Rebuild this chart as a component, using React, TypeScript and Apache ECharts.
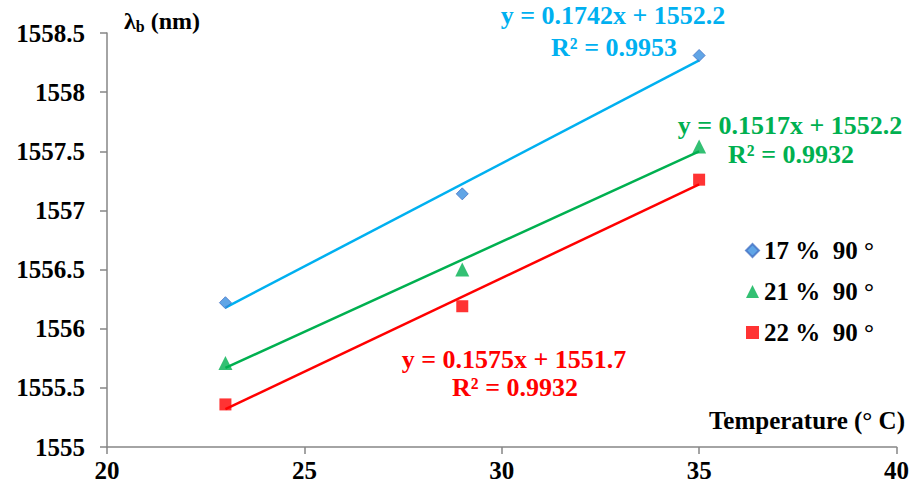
import React, { useEffect, useRef } from "react";
import * as echarts from "echarts";

const temperatures = [23, 29, 35];
const series17 = [1556.22, 1557.14, 1558.31];
const series21 = [1555.71, 1556.5, 1557.54];
const series22 = [1555.36, 1556.19, 1557.26];
const seriesNames = ["17 %  90 °", "21 %  90 °", "22 %  90 °"];
const eqTexts = [
  ["y = 0.1742x + 1552.2", "R² = 0.9953"],
  ["y = 0.1517x + 1552.2", "R² = 0.9932"],
  ["y = 0.1575x + 1551.7", "R² = 0.9932"],
];
const xTicks = { min: 20, max: 40, interval: 5 };
const yTicks = { min: 1555, max: 1558.5, interval: 0.5 };

const FONT = "Liberation Serif";

function fit(xs: number[], ys: number[]) {
  const n = xs.length;
  const mx = xs.reduce((a, b) => a + b, 0) / n;
  const my = ys.reduce((a, b) => a + b, 0) / n;
  let sxy = 0, sxx = 0;
  for (let i = 0; i < n; i++) {
    sxy += (xs[i] - mx) * (ys[i] - my);
    sxx += (xs[i] - mx) * (xs[i] - mx);
  }
  const k = sxy / sxx;
  const b = my - k * mx;
  const x0 = Math.min(...xs), x1 = Math.max(...xs);
  return [[x0, k * x0 + b], [x1, k * x1 + b]];
}

export default function App() {
  const ref = useRef<HTMLDivElement>(null);
  useEffect(() => {
    if (!ref.current) return;
    const chart = echarts.init(ref.current, null, { renderer: "svg" });
    const colors = ["#00B0F0", "#00B050", "#FF0000"];
    const datas = [series17, series21, series22];
    const symbols = ["diamond", "triangle", "rect"];
    const sizes = [12, 14, 12];
    const markerColors = ["#3A8EE0", "#00B050", "#FF0000"];
    const trend = datas.map((d, i) => ({
      type: "line",
      name: "trend" + i,
      data: fit(temperatures, d),
      showSymbol: false,
      symbol: "none",
      lineStyle: { color: colors[i], width: 2.5 },
      z: 2,
      silent: true,
    }));
    const scat = datas.map((d, i) => ({
      type: "scatter",
      name: seriesNames[i],
      data: temperatures.map((t, j) => [t, d[j]]),
      symbol: symbols[i],
      symbolSize: sizes[i],
      itemStyle: {
        color: markerColors[i],
        borderColor: i === 0 ? "#4472C4" : markerColors[i],
        borderWidth: i === 0 ? 1 : 0,
      },
      z: 3,
    }));
    const txt = (t: string, x: number, y: number, color: string, size = 26, align = "center") => ({
      type: "text",
      x,
      y,
      style: {
        text: t,
        fill: color,
        fontFamily: FONT,
        fontWeight: "bold",
        fontSize: size,
        textAlign: align,
        textVerticalAlign: "middle",
      },
    });
    const label = { color: "#000", fontFamily: FONT, fontWeight: "bold", fontSize: 25 };
    chart.setOption({
      animation: false,
      textStyle: { fontFamily: FONT },
      grid: { left: 107, right: 13, top: 33, bottom: 45 },
      xAxis: {
        type: "value",
        min: xTicks.min,
        max: xTicks.max,
        interval: xTicks.interval,
        axisLine: { show: true, lineStyle: { color: "#868686", width: 1.5 } },
        axisTick: { show: true, length: 7, lineStyle: { color: "#868686", width: 1.5 } },
        splitLine: { show: false },
        axisLabel: { ...label, margin: 11 },
      },
      yAxis: {
        type: "value",
        min: yTicks.min,
        max: yTicks.max,
        interval: yTicks.interval,
        axisLine: { show: true, lineStyle: { color: "#868686", width: 1.5 } },
        axisTick: { show: true, length: 7, lineStyle: { color: "#868686", width: 1.5 } },
        splitLine: { show: false },
        axisLabel: { ...label, margin: 22, formatter: (v: number) => String(v) },
      },
      legend: {
        data: seriesNames,
        orient: "vertical",
        left: 740,
        top: 233,
        itemGap: 16,
        itemWidth: 13,
        itemHeight: 13,
        textStyle: { color: "#000", fontFamily: FONT, fontWeight: "bold", fontSize: 25 },
      },
      graphic: [
        {
          type: "text",
          x: 124,
          y: 21,
          style: {
            text: "{l|λ}{s|b}{n| (nm)}",
            textVerticalAlign: "middle",
            rich: {
              l: { fontFamily: FONT, fontWeight: "bold", fontSize: 24, fill: "#000" },
              s: { fontFamily: FONT, fontWeight: "bold", fontSize: 16, fill: "#000", padding: [10, 0, 0, 0] },
              n: { fontFamily: FONT, fontWeight: "bold", fontSize: 24, fill: "#000" },
            },
          },
        },
        txt("Temperature (° C)", 905, 420, "#000", 25, "right"),
        txt(eqTexts[0][0], 613, 15, colors[0]),
        txt(eqTexts[0][1], 614, 47, colors[0]),
        txt(eqTexts[1][0], 790, 125, colors[1]),
        txt(eqTexts[1][1], 791, 154, colors[1]),
        txt(eqTexts[2][0], 514, 359, colors[2]),
        txt(eqTexts[2][1], 515, 387, colors[2]),
      ],
      series: [...trend, ...scat],
    });
    return () => chart.dispose();
  }, []);
  return <div ref={ref} style={{ width: 912, height: 492, position: "absolute", left: 0, top: 0 }} />;
}
